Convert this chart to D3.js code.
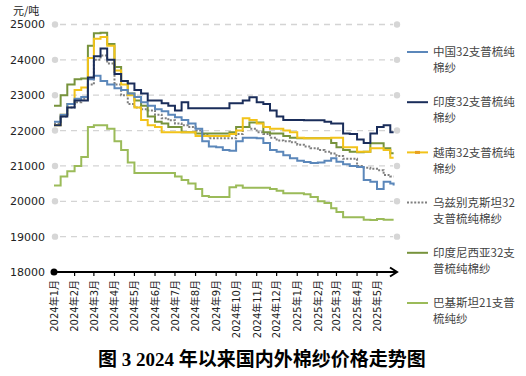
<!DOCTYPE html>
<html><head><meta charset="utf-8">
<script src="https://cdn.jsdelivr.net/npm/d3@7"></script>
<style>body{margin:0;background:#fff}svg{display:block}</style>
</head><body>
<svg id="c" width="526" height="376"></svg>
<script>
const dates = ["2024-01-01","2024-01-11","2024-01-21","2024-02-01","2024-02-11","2024-02-21","2024-03-01","2024-03-11","2024-03-21","2024-04-01","2024-04-11","2024-04-21","2024-05-01","2024-05-11","2024-05-21","2024-06-01","2024-06-11","2024-06-21","2024-07-01","2024-07-11","2024-07-21","2024-08-01","2024-08-11","2024-08-21","2024-09-01","2024-09-11","2024-09-21","2024-10-01","2024-10-11","2024-10-21","2024-11-01","2024-11-11","2024-11-21","2024-12-01","2024-12-11","2024-12-21","2025-01-01","2025-01-11","2025-01-21","2025-02-01","2025-02-11","2025-02-21","2025-03-01","2025-03-11","2025-03-21","2025-04-01","2025-04-11","2025-04-21","2025-05-01","2025-05-11","2025-05-21","2025-05-26"];

const china32 = [22250,22450,22750,22900,22950,23450,23550,23400,23300,23200,23150,23050,22950,22800,22700,22600,22550,22450,22380,22300,22200,22050,21700,21550,21530,21450,21430,21700,21800,21800,21780,21650,21450,21400,21300,21220,21150,21110,21080,21100,21150,21220,21120,21050,21000,20970,20600,20550,20350,20550,20500,20450];
const india32 = [22150,22400,22650,22850,22850,23500,24100,24320,24000,23600,23400,23330,23150,23050,22850,22850,22770,22700,22570,22800,22630,22630,22630,22630,22630,22630,22770,22770,22850,22940,22800,22750,22570,22400,22300,22300,22300,22290,22290,22290,22250,22200,22200,21920,21900,21750,21650,21920,22100,22150,21950,21950];
const vietnam32 = [22150,22450,22750,23150,23220,24050,24600,24650,24400,23700,23300,23000,22650,22300,22150,22100,21950,21950,21950,21950,21950,21850,21850,21850,21850,21850,21900,22000,22350,22300,22200,22100,22050,22050,22000,21950,21800,21780,21780,21780,21780,21800,21800,21530,21530,21400,21400,21500,21500,21450,21230,21230];
const uzbek32 = [22200,22400,22650,22800,22900,23300,24000,24120,23900,23300,23000,22750,22650,22600,22570,22450,22350,22290,22200,22150,22100,22000,21900,21780,21780,21780,21780,21900,22100,22050,21950,21900,21800,21720,21700,21670,21600,21550,21500,21450,21400,21350,21280,21200,21200,21000,20950,20920,20880,20740,20700,20700];
const indonesia32 = [22700,23000,23300,23450,23470,24400,24750,24770,24450,23800,23400,23050,22850,22700,22400,22250,22200,22100,22100,21950,21950,21920,21920,21920,21920,21920,21950,22100,22100,22230,22230,21950,21920,21920,21850,21800,21780,21780,21780,21780,21780,21650,21530,21450,21400,21390,21400,21640,21640,21500,21360,21360];
const pakistan21 = [20450,20700,20850,21000,21250,22100,22150,22150,22050,21700,21450,21100,20800,20800,20800,20800,20800,20800,20700,20600,20500,20350,20150,20120,20120,20120,20400,20450,20380,20380,20380,20380,20350,20300,20230,20230,20230,20200,20120,20000,19950,19800,19700,19550,19550,19550,19480,19470,19500,19480,19480,19480];

const yTicks = [18000,19000,20000,21000,22000,23000,24000,25000];
const monthTicks = ["2024-01-01","2024-02-01","2024-03-01","2024-04-01","2024-05-01","2024-06-01","2024-07-01","2024-08-01","2024-09-01","2024-10-01","2024-11-01","2024-12-01","2025-01-01","2025-02-01","2025-03-01","2025-04-01","2025-05-01"];
const monthLabels = ["2024年1月","2024年2月","2024年3月","2024年4月","2024年5月","2024年6月","2024年7月","2024年8月","2024年9月","2024年10月","2024年11月","2024年12月","2025年1月","2025年2月","2025年3月","2025年4月","2025年5月"];

const seriesNames = ["中国32支普梳纯棉纱","印度32支普梳纯棉纱","越南32支普梳纯棉纱","乌兹别克斯坦32支普梳纯棉纱","印度尼西亚32支普梳纯棉纱","巴基斯坦21支普梳纯纱"];
const legendLines = [["中国32支普梳纯","棉纱"],["印度32支普梳纯","棉纱"],["越南32支普梳纯","棉纱"],["乌兹别克斯坦32","支普梳纯棉纱"],["印度尼西亚32支","普梳纯棉纱"],["巴基斯坦21支普","梳纯纱"]];
const seriesValues = [china32, india32, vietnam32, uzbek32, indonesia32, pakistan21];
const colors = ["#5b87ba","#1a2d5a","#f2c31a","#7f7f7f","#77933c","#9bbb59"];
const dashes = [null,null,null,"2,1.6",null,null];
const title = "图 3 2024 年以来国内外棉纱价格走势图";
const unit = "元/吨";

const svg = d3.select("#c");
const parse = d3.utcParse("%Y-%m-%d");
const x = d3.scaleUtc().domain([parse("2024-01-01"), parse("2025-05-01")]).range([54, 377]);
const y = d3.scaleLinear().domain([18000, 25000]).range([272, 24.5]);

// gridlines
const grid = svg.append("g");
yTicks.filter(v => v > 18000).forEach(v => {
  grid.append("line").attr("x1", 60).attr("x2", 393).attr("y1", y(v)).attr("y2", y(v))
    .attr("stroke", "#d4d4d4").attr("stroke-width", 1.3).attr("stroke-dasharray", "6,5");
  grid.append("circle").attr("cx", 55).attr("cy", y(v)).attr("r", 3.2).attr("fill", "#d6d6d6");
  grid.append("circle").attr("cx", 397).attr("cy", y(v)).attr("r", 3.2).attr("fill", "#d6d6d6");
});

// y labels
svg.append("g").selectAll("text").data(yTicks).join("text")
  .attr("x", 45).attr("y", d => y(d)).attr("dy", "0.36em")
  .attr("text-anchor", "end").attr("font-family", "DejaVu Sans, Verdana, sans-serif")
  .attr("font-size", 11).attr("fill", "#222").text(d => d);

svg.append("text").attr("x", 13).attr("y", 15).attr("font-family", "Noto Sans CJK SC")
  .attr("font-size", 11).attr("fill", "#222").text(unit);

// lines
const line = d3.line().x((d, i) => x(parse(dates[i]))).y(d => y(d)).curve(d3.curveStepAfter);
const order = [5, 3, 4, 2, 0, 1];
order.forEach(k => {
  svg.append("path").datum(seriesValues[k]).attr("d", line)
    .attr("fill", "none").attr("stroke", colors[k]).attr("stroke-width", 2)
    .attr("stroke-dasharray", dashes[k]).attr("stroke-linejoin", "miter");
});

// x axis
const ax = svg.append("g");
ax.append("line").attr("x1", 54).attr("x2", 396).attr("y1", 272).attr("y2", 272)
  .attr("stroke", "#000").attr("stroke-width", 2);
ax.append("circle").attr("cx", 54).attr("cy", 272).attr("r", 3.5).attr("fill", "#000");
ax.append("path").attr("d", "M390,267.5L397,272L390,276.5").attr("fill", "none")
  .attr("stroke", "#000").attr("stroke-width", 2);
monthTicks.forEach((m, i) => {
  const px = x(parse(m));
  if (i > 0) ax.append("line").attr("x1", px).attr("x2", px).attr("y1", 272).attr("y2", 276)
    .attr("stroke", "#000").attr("stroke-width", 1.2);
  ax.append("text").attr("transform", `translate(${px + 3.8},280) rotate(-90)`)
    .attr("text-anchor", "end").attr("font-family", "DejaVu Sans, Noto Sans CJK SC, sans-serif")
    .attr("font-size", 10).attr("fill", "#222").text(monthLabels[i]);
});

// legend
const lg = svg.append("g");
legendLines.forEach((ls, i) => {
  const cy = 52 + i * 50.2;
  lg.append("line").attr("x1", 407).attr("x2", 428).attr("y1", cy).attr("y2", cy)
    .attr("stroke", colors[i]).attr("stroke-width", 2).attr("stroke-dasharray", dashes[i]);
  if (i === 2) lg.append("line").attr("x1", 415).attr("x2", 420).attr("y1", cy).attr("y2", cy)
    .attr("stroke", "#e8a020").attr("stroke-width", 3);
  ls.forEach((t, j) => {
    lg.append("text").attr("x", 433).attr("y", cy + j * 16).attr("dy", "0.36em")
      .attr("font-family", "Noto Sans CJK SC").attr("font-size", 11.5).attr("fill", "#444").text(t);
  });
});

// title
svg.append("text").attr("x", 262).attr("y", 366).attr("text-anchor", "middle")
  .attr("font-family", "Liberation Serif, Noto Sans CJK SC").attr("font-weight", "bold")
  .attr("font-size", 19).attr("fill", "#000").text(title);
</script>
</body></html>
